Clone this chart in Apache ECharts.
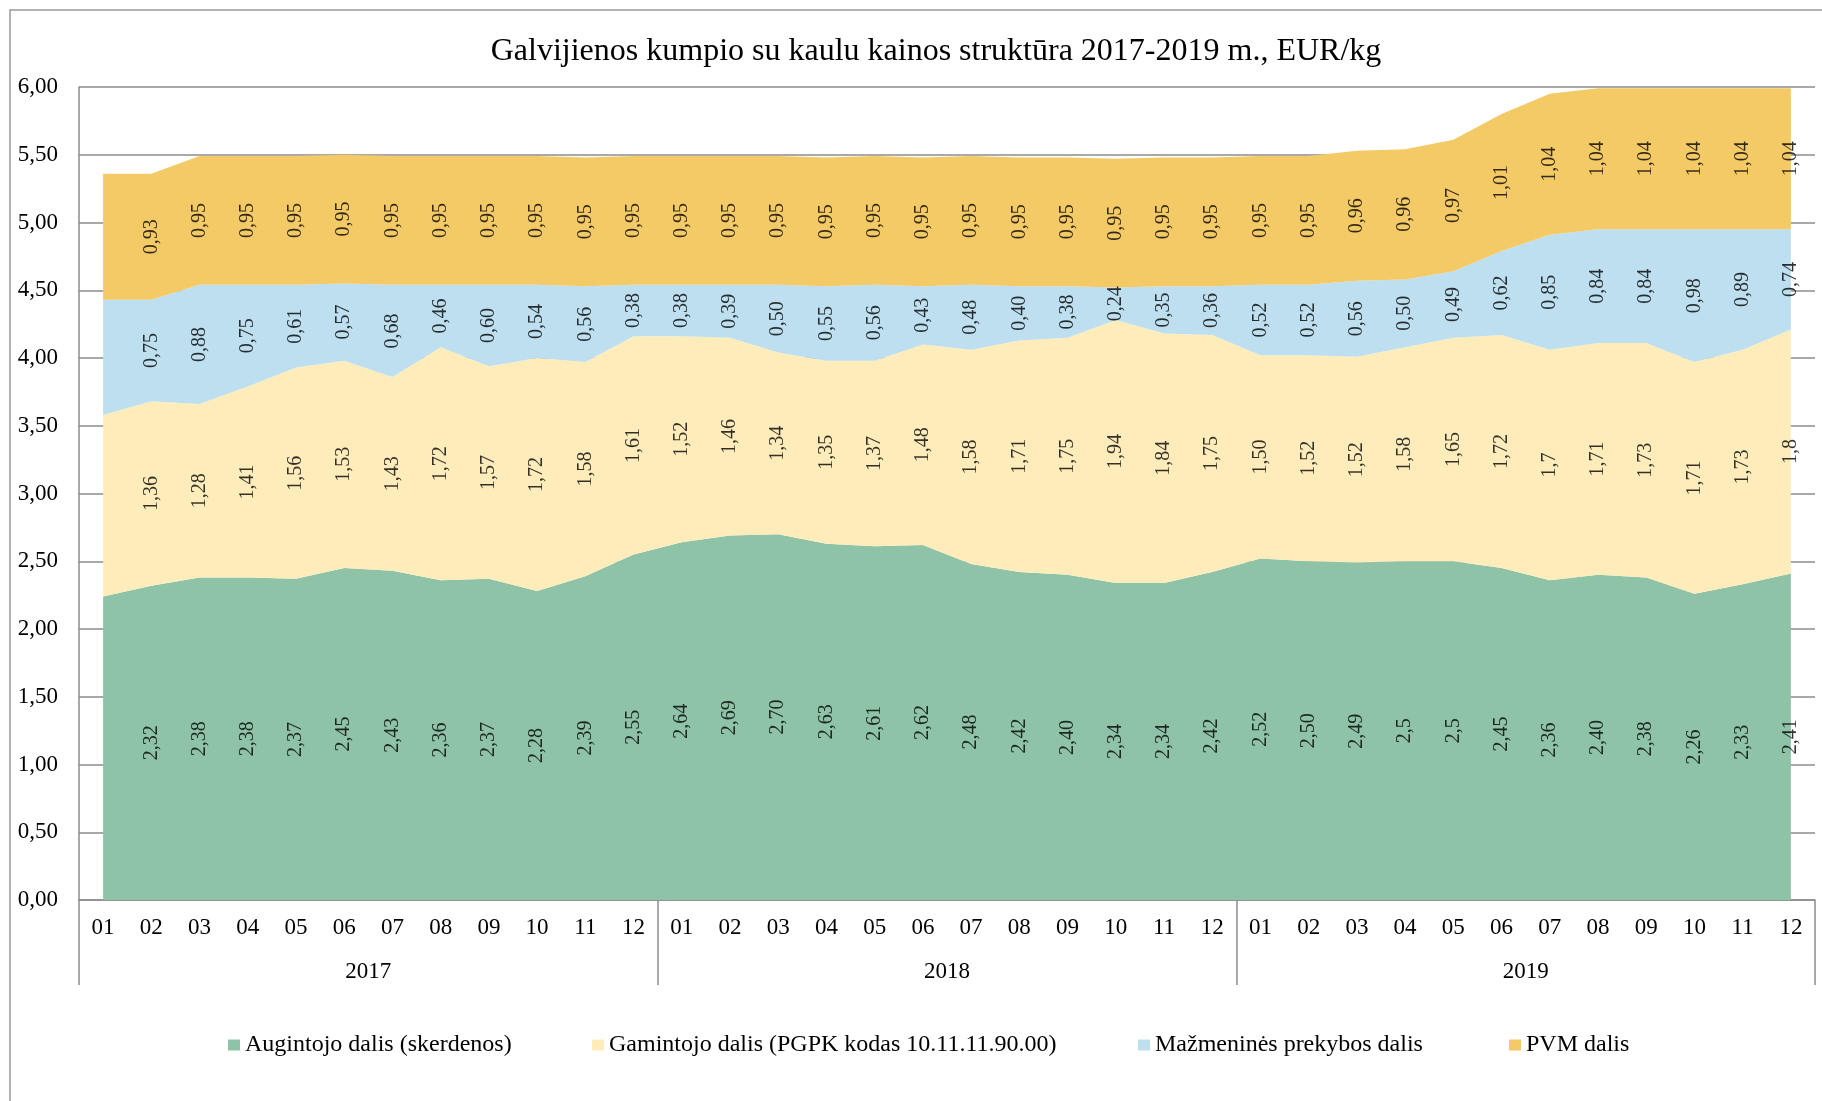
<!DOCTYPE html>
<html><head><meta charset="utf-8">
<script src="https://cdn.jsdelivr.net/npm/echarts@6/dist/echarts.min.js"></script>
<style>html,body{margin:0;padding:0;background:#fff}#c{width:1822px;height:1101px}</style>
</head><body><div id="c"></div>
<script>
// ---- data ----
const months = ['01','02','03','04','05','06','07','08','09','10','11','12',
                '01','02','03','04','05','06','07','08','09','10','11','12',
                '01','02','03','04','05','06','07','08','09','10','11','12'];
const years = ['2017','2018','2019'];
const seriesNames = ['Augintojo dalis (skerdenos)','Gamintojo dalis (PGPK kodas 10.11.11.90.00)','Mažmeninės prekybos dalis','PVM dalis'];
// values as printed in the data labels (first month of 2017 is unlabelled: estimated)
const augintojo = ['2.24','2.32','2.38','2.38','2.37','2.45','2.43','2.36','2.37','2.28','2.39','2.55',
                   '2.64','2.69','2.70','2.63','2.61','2.62','2.48','2.42','2.40','2.34','2.34','2.42',
                   '2.52','2.50','2.49','2.5','2.5','2.45','2.36','2.40','2.38','2.26','2.33','2.41'];
const gamintojo = ['1.34','1.36','1.28','1.41','1.56','1.53','1.43','1.72','1.57','1.72','1.58','1.61',
                   '1.52','1.46','1.34','1.35','1.37','1.48','1.58','1.71','1.75','1.94','1.84','1.75',
                   '1.50','1.52','1.52','1.58','1.65','1.72','1.7','1.71','1.73','1.71','1.73','1.8'];
const mazmenine = ['0.85','0.75','0.88','0.75','0.61','0.57','0.68','0.46','0.60','0.54','0.56','0.38',
                   '0.38','0.39','0.50','0.55','0.56','0.43','0.48','0.40','0.38','0.24','0.35','0.36',
                   '0.52','0.52','0.56','0.50','0.49','0.62','0.85','0.84','0.84','0.98','0.89','0.74'];
const pvm       = ['0.93','0.93','0.95','0.95','0.95','0.95','0.95','0.95','0.95','0.95','0.95','0.95',
                   '0.95','0.95','0.95','0.95','0.95','0.95','0.95','0.95','0.95','0.95','0.95','0.95',
                   '0.95','0.95','0.96','0.96','0.97','1.01','1.04','1.04','1.04','1.04','1.04','1.04'];
const unlabelled = [0];
const yTicks = [0, 6, 0.5];

// ---- chart ----
const bands = [augintojo, gamintojo, mazmenine, pvm];
const colors = ['#8ec3a7', '#feecbb', '#bddfef', '#f3ca66'];
const FONT = "'Liberation Serif', 'Times New Roman', serif";
const GRAY = '#8c8c8c';
const legendLeft = [223, 587, 1133, 1504];

const series = [];
bands.forEach((arr, k) => {
  series.push({
    name: seriesNames[k], type: 'line', stack: 'total',
    data: arr.map(Number), symbol: 'none', showSymbol: false,
    lineStyle: { width: 0 }, areaStyle: { color: colors[k], opacity: 1 },
    itemStyle: { color: colors[k] }, z: 2
  });
});
bands.forEach((arr, k) => {
  const pts = [];
  arr.forEach((v, i) => {
    if (unlabelled.includes(i)) return;
    let bottom = 0;
    for (let j = 0; j < k; j++) bottom += Number(bands[j][i]);
    pts.push({ value: [i, bottom + Number(v) / 2], txt: v.replace('.', ',') });
  });
  series.push({
    name: 'lbl' + k, type: 'scatter', data: pts, symbolSize: 0, silent: true, z: 5,
    label: { show: true, position: 'inside', rotate: 90, color: '#000', fontSize: 20, fontFamily: FONT,
             formatter: p => p.data.txt }
  });
});

const legends = seriesNames.map((n, k) => ({
  data: [n], left: legendLeft[k], top: 1028, icon: 'rect', itemWidth: 12, itemHeight: 11,
  textStyle: { fontSize: 24, fontFamily: FONT, color: '#000' }, selectedMode: false
}));

const chart = echarts.init(document.getElementById('c'), null, { renderer: 'canvas' });
chart.setOption({
  animation: false,
  backgroundColor: '#fff',
  graphic: [
    { type: 'rect', shape: { x: 10, y: 10, width: 1830, height: 1110 },
      style: { fill: 'none', stroke: '#999', lineWidth: 1.5 }, z: 0 },
    { type: 'text', x: 936, y: 52, style: { text: 'Galvijienos kumpio su kaulu kainos struktūra 2017-2019 m., EUR/kg',
      font: '32px ' + FONT, fill: '#000', textAlign: 'center', textVerticalAlign: 'middle' } }
  ],
  grid: { left: 79, right: 7, top: 87, bottom: 201, containLabel: false },
  legend: legends,
  xAxis: [
    { type: 'category', data: months, boundaryGap: true,
      axisLine: { show: true, lineStyle: { color: GRAY, width: 1.5 } },
      axisTick: { show: false },
      axisLabel: { interval: 0, margin: 16, fontSize: 23, fontFamily: FONT, color: '#000' } },
    { type: 'category', data: years, position: 'bottom', boundaryGap: true,
      axisLine: { show: false },
      axisTick: { show: true, length: 85, lineStyle: { color: GRAY, width: 1.5 } },
      axisLabel: { margin: 60, fontSize: 23, fontFamily: FONT, color: '#000' } }
  ],
  yAxis: {
    type: 'value', min: yTicks[0], max: yTicks[1], interval: yTicks[2],
    axisLine: { show: true, lineStyle: { color: GRAY, width: 1.5 } },
    axisTick: { show: false },
    splitLine: { show: true, lineStyle: { color: GRAY, width: 1.5 } },
    axisLabel: { margin: 21, fontSize: 23, fontFamily: FONT, color: '#000',
                 formatter: v => v.toFixed(2).replace('.', ',') }
  },
  series: series
});
</script></body></html>
